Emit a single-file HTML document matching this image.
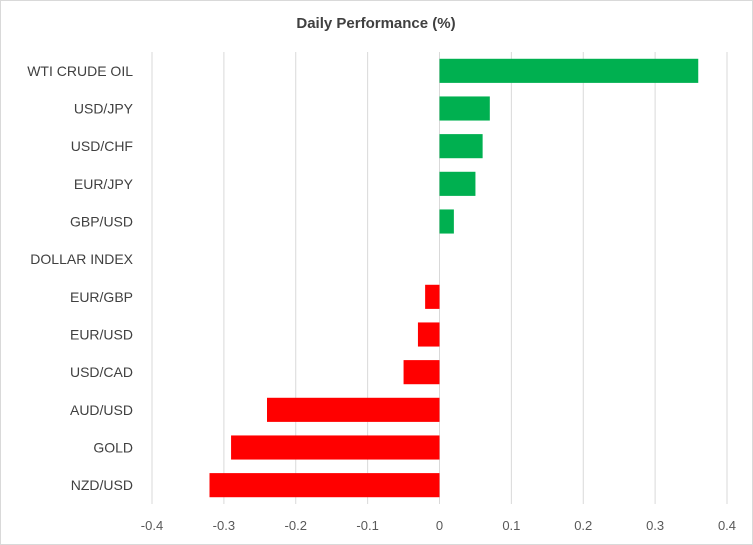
<!DOCTYPE html>
<html><head><meta charset="utf-8"><style>
body{margin:0;background:#fff}
svg{display:block;font-family:"Liberation Sans",Arial,sans-serif}
</style></head><body>
<svg id="chart" width="753" height="545" viewBox="0 0 753 545">
<rect x="0.5" y="0.5" width="752" height="544" fill="#fff" stroke="#d9d9d9"/>
<text x="376" y="28" text-anchor="middle" font-size="15" font-weight="bold" fill="#404040">Daily Performance (%)</text>
<g id="grid"></g><g id="bars"></g><g id="labels"></g><g id="ticks"></g>
</svg>
<script>
const categories=["WTI CRUDE OIL","USD/JPY","USD/CHF","EUR/JPY","GBP/USD","DOLLAR INDEX","EUR/GBP","EUR/USD","USD/CAD","AUD/USD","GOLD","NZD/USD"];
const values=[0.36,0.07,0.06,0.05,0.02,0,-0.02,-0.03,-0.05,-0.24,-0.29,-0.32];
const tickValues=[-0.4,-0.3,-0.2,-0.1,0,0.1,0.2,0.3,0.4];
const tickLabels=["-0.4","-0.3","-0.2","-0.1","0","0.1","0.2","0.3","0.4"];
const NS="http://www.w3.org/2000/svg";
const x0=152,x1=727,vmin=-0.4,vmax=0.4,plotTop=52,plotBottom=504;
const xScale=v=>x0+(v-vmin)/(vmax-vmin)*(x1-x0);
const band=(plotBottom-plotTop)/categories.length;
const yScale=i=>plotTop+i*band+band/2;
function mk(tag,attrs,parent){const e=document.createElementNS(NS,tag);for(const k in attrs)e.setAttribute(k,attrs[k]);document.getElementById(parent).appendChild(e);return e;}
tickValues.forEach((t,i)=>{
  const g=mk("line",{x1:xScale(t),x2:xScale(t),y1:plotTop,y2:plotBottom,stroke:"#d9d9d9","stroke-width":1},"grid");
  
  
  const tx=mk("text",{x:xScale(t),y:530,"text-anchor":"middle","font-size":13,fill:"#595959"},"ticks");
  tx.textContent=tickLabels[i];
  
  
});
categories.forEach((c,i)=>{
  const v=values[i];
  const bh=band*0.64;
  const r=mk("rect",{x:Math.min(xScale(0),xScale(v)),y:yScale(i)-bh/2,width:Math.abs(xScale(v)-xScale(0)),height:bh,fill:v>=0?"#00b050":"#ff0000"},"bars");
  
  
  const t=mk("text",{x:133,y:yScale(i)+5,"text-anchor":"end","font-size":14,fill:"#404040"},"labels");
  t.textContent=c;
  
  
});
</script>
</body></html>
